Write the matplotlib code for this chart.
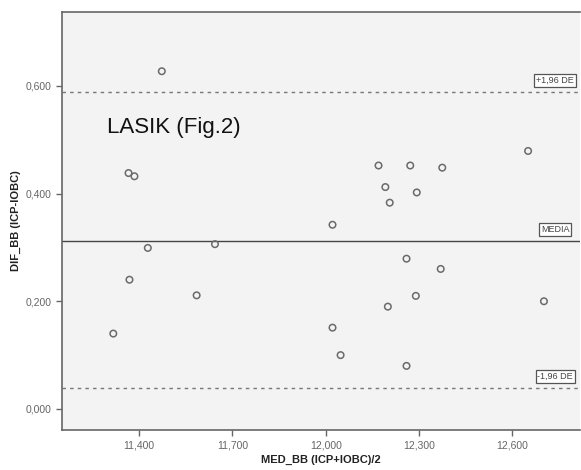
import numpy as np
import matplotlib.pyplot as plt

plt.rcParams.update({
    'font.family': ['Liberation Sans', 'DejaVu Sans'],
})

# Bland-Altman data
med_bb = [11473, 11366, 11385, 12170, 12272, 12375, 12651, 12192, 12293, 12206,
          12022, 11428, 11644, 11369, 11585, 11317, 12260, 12370, 12290, 12200,
          12702, 12022, 12048, 12260]
dif_bb = [0.627, 0.438, 0.432, 0.452, 0.452, 0.448, 0.479, 0.412, 0.402, 0.383,
          0.342, 0.299, 0.306, 0.240, 0.211, 0.140, 0.279, 0.260, 0.210, 0.190,
          0.200, 0.151, 0.100, 0.080]
media = 0.312
upper = 0.589
lower = 0.039
xticks = [11400, 11700, 12000, 12300, 12600]
yticks = [0.0, 0.2, 0.4, 0.6]

fig = plt.figure(figsize=(5.81, 4.70), dpi=100)
ax = fig.add_axes([0.1067, 0.0851, 0.8916, 0.8894])
ax.set_facecolor('#f3f3f3')

ax.scatter(med_bb, dif_bb, s=22, facecolors='none', edgecolors='#6a6a6a', linewidths=1.1, zorder=3)
ax.axhline(media, color='#444444', lw=1.0)
ax.axhline(upper, color='#777777', lw=1.0, ls=(0, (2.5, 3)))
ax.axhline(lower, color='#777777', lw=1.0, ls=(0, (2.5, 3)))

# labels for the reference lines
box = dict(boxstyle='square,pad=0.2', fc='white', ec='#555555', lw=0.9)
ax.text(12738, upper + 0.013, '+1,96 DE', fontsize=6.5, color='#444444', ha='center', va='bottom', bbox=box)
ax.text(12738, media + 0.013, 'MEDIA', fontsize=6.5, color='#444444', ha='center', va='bottom', bbox=box)
ax.text(12738, lower + 0.013, '-1,96 DE', fontsize=6.5, color='#444444', ha='center', va='bottom', bbox=box)

ax.text(11297, 0.523, 'LASIK (Fig.2)', fontsize=16, color='#111111', ha='left', va='center')

ax.set_xlim(11152, 12818)
ax.set_ylim(-0.039, 0.737)
ax.set_xticks(xticks)
ax.set_xticklabels([f'{v:,}' for v in xticks])
ax.set_yticks(yticks)
ax.set_yticklabels([f'{v:.3f}'.replace('.', ',') for v in yticks])
ax.tick_params(colors='#666666', labelsize=7.5, length=4, width=1, direction='out')
for s in ['left', 'bottom', 'top']:
    ax.spines[s].set_color('#666666')
    ax.spines[s].set_linewidth(1.2)
ax.spines['right'].set_visible(False)

ax.set_xlabel('MED_BB (ICP+IOBC)/2', fontsize=8, fontweight='bold', color='#222222', labelpad=3)
ax.set_ylabel('DIF_BB (ICP-IOBC)', fontsize=8, fontweight='bold', color='#222222', labelpad=3)

fig.savefig('out.png', dpi=100)
